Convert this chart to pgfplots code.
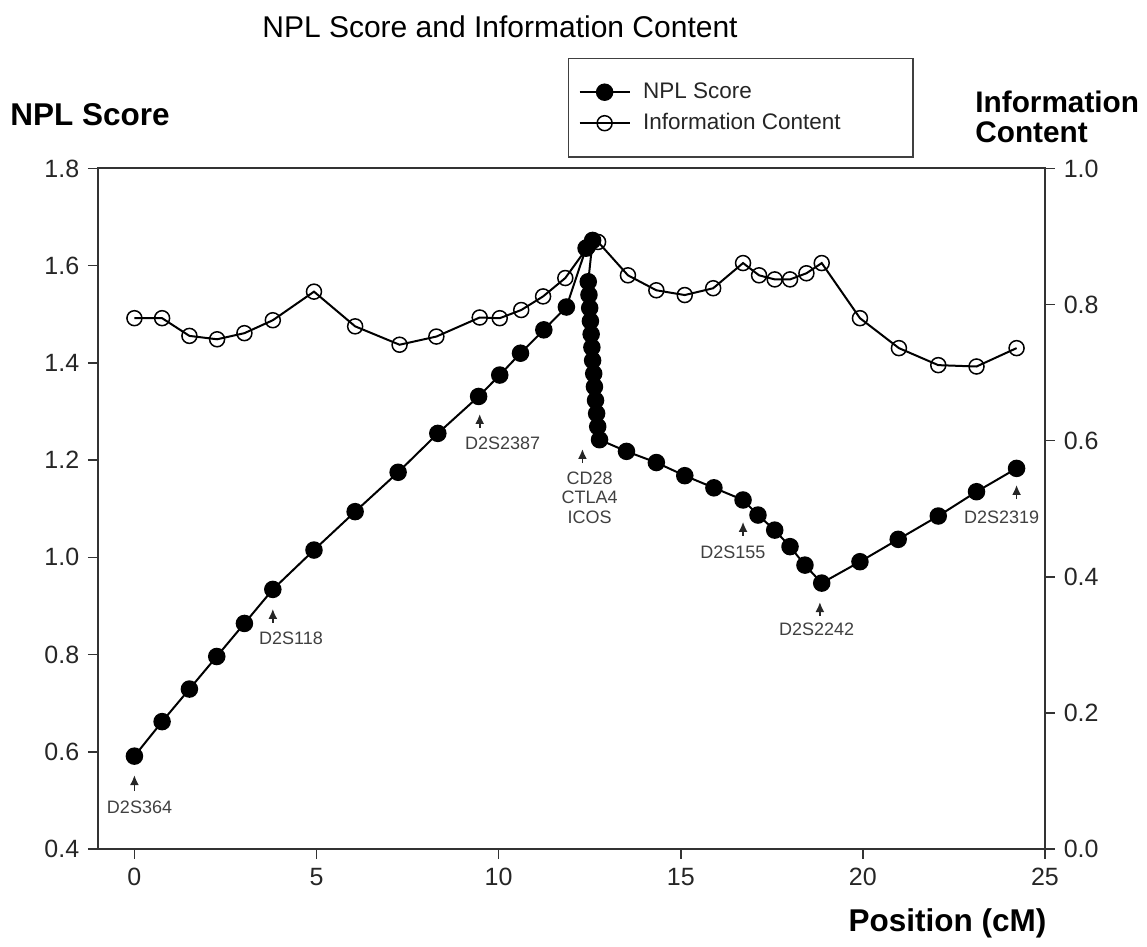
\documentclass[border=0pt]{standalone}
\usepackage{pgfplots}
\pgfplotsset{compat=1.18}
\usepackage{pgfplotstable}
\usepackage{fontspec}
\setmainfont{Liberation Sans}
\usetikzlibrary{arrows.meta}

\pgfplotstableread{
x y
0 0.591
0.76 0.662
1.51 0.729
2.26 0.796
3.02 0.864
3.80 0.934
4.93 1.015
6.06 1.094
7.24 1.175
8.33 1.255
9.45 1.331
10.03 1.375
10.60 1.420
11.24 1.468
11.86 1.515
12.40 1.636
12.58 1.652
12.46 1.567
12.48 1.540
12.50 1.513
12.52 1.486
12.54 1.459
12.56 1.432
12.58 1.405
12.61 1.378
12.63 1.351
12.66 1.323
12.69 1.296
12.72 1.269
12.77 1.242
13.51 1.218
14.33 1.195
15.11 1.168
15.91 1.143
16.71 1.118
17.12 1.087
17.58 1.056
18.00 1.022
18.41 0.984
18.87 0.947
19.92 0.991
20.97 1.037
22.07 1.085
23.12 1.135
24.22 1.183
}\npl

\pgfplotstableread{
x y
0 0.780
0.76 0.780
1.51 0.754
2.27 0.749
3.02 0.758
3.80 0.777
4.93 0.819
6.06 0.768
7.28 0.741
8.29 0.753
9.48 0.781
10.03 0.780
10.62 0.792
11.22 0.812
11.83 0.839
12.45 0.885
12.73 0.892
13.55 0.843
14.33 0.821
15.11 0.814
15.89 0.824
16.71 0.861
17.15 0.843
17.58 0.837
18.00 0.837
18.45 0.846
18.87 0.861
19.92 0.780
20.99 0.736
22.07 0.711
23.12 0.709
24.22 0.736
}\info

\begin{document}
\begin{tikzpicture}
\pgfplotsset{
  common/.style={
    scale only axis, width=378.8pt, height=272.2pt,
    xmin=-1, xmax=25, clip=false,
    tick align=outside, major tick length=4pt,
    tick style={black!80, line width=0.6pt},
    axis line style={black!80, line width=0.8pt},
    tick label style={font=\fontsize{10}{12}\selectfont, text=black!85},
    /pgf/number format/assume math mode=true,
  }
}
\begin{axis}[common, name=main,
  ymin=0.4, ymax=1.8,
  xtick={0,5,10,15,20,25}, xtick pos=bottom,
  ytick={0.4,0.6,0.8,1.0,1.2,1.4,1.6,1.8}, ytick pos=left,
  yticklabel style={/pgf/number format/fixed, /pgf/number format/fixed zerofill, /pgf/number format/precision=1},
  legend style={at={(0.4963,1.1624)}, anchor=north west, draw=black!75, line width=0.6pt,
    font=\fontsize{9}{12.8}\selectfont, inner xsep=4pt, inner ysep=7.5pt, row sep=0.5pt,
    column sep=3pt, text=black!85},
  legend cell align=left,
  legend image code/.code={\draw[mark repeat=2,mark phase=2] plot coordinates {(0cm,0cm)(0.35cm,0cm)(0.7cm,0cm)};},
]
\coordinate (ll) at (rel axis cs:0,0);
\addplot[black, line width=0.8pt, mark=*, mark size=3.1pt, mark options={fill=black}] table[x=x,y=y] {\npl};
\addlegendentry{NPL Score}
\addlegendimage{black, line width=0.8pt, mark=o, mark size=3pt, mark options={fill=white, line width=0.6pt}}
\addlegendentry{Information Content\hspace*{23pt}}

% title and labels
\node[font=\fontsize{12}{14}\selectfont] at (rel axis cs:0.4245,1.208) {NPL Score and Information Content};
\node[font=\bfseries\fontsize{12.6}{14}\selectfont] at (rel axis cs:-0.0084,1.0786) {NPL Score};
\node[font=\bfseries\fontsize{11.9}{11.8}\selectfont, anchor=north west, align=left, inner sep=0pt] at (rel axis cs:0.926,1.114) {Information\\Content};
\node[font=\bfseries\fontsize{12.6}{14}\selectfont, anchor=east, inner sep=0pt] at (rel axis cs:1.002,-0.1087) {Position (cM)};

% marker annotations
\tikzset{mk/.style={font=\fontsize{7.2}{8.6}\selectfont, text=black!75, inner sep=0pt},
         ar/.style={-{Latex[length=4pt,width=3.6pt]}, line width=0.7pt, black!85}}
\draw[ar] (axis cs:0,0.519) -- (axis cs:0,0.552);
\node[mk] at (axis cs:0.14,0.486) {D2S364};
\draw[ar] (axis cs:3.8,0.865) -- (axis cs:3.8,0.894);
\node[mk] at (axis cs:4.3,0.834) {D2S118};
\draw[ar] (axis cs:9.48,1.266) -- (axis cs:9.48,1.295);
\node[mk] at (axis cs:10.11,1.235) {D2S2387};
\draw[ar] (axis cs:12.3,1.194) -- (axis cs:12.3,1.223);
\node[mk] at (axis cs:12.5,1.163) {CD28};
\node[mk] at (axis cs:12.5,1.124) {CTLA4};
\node[mk] at (axis cs:12.5,1.083) {ICOS};
\draw[ar] (axis cs:16.71,1.044) -- (axis cs:16.71,1.073);
\node[mk] at (axis cs:16.43,1.011) {D2S155};
\draw[ar] (axis cs:18.82,0.879) -- (axis cs:18.82,0.908);
\node[mk] at (axis cs:18.73,0.851) {D2S2242};
\draw[ar] (axis cs:24.22,1.120) -- (axis cs:24.22,1.149);
\node[mk] at (axis cs:23.81,1.083) {D2S2319};
\end{axis}

\begin{axis}[common,
  ymin=0, ymax=1,
  axis x line=none, axis y line*=right,
  axis line style={-},
  ytick={0,0.2,0.4,0.6,0.8,1.0},
  yticklabel style={/pgf/number format/fixed, /pgf/number format/fixed zerofill, /pgf/number format/precision=1},
]
\addplot[black, line width=0.8pt, mark=o, mark size=3pt, mark options={fill=white, line width=0.6pt}] table[x=x,y=y] {\info};
\end{axis}

\pgfresetboundingbox
\path[use as bounding box] (ll) ++(-39.2pt,-39.2pt) rectangle ++(458.8pt,378.8pt);
\end{tikzpicture}
\end{document}
